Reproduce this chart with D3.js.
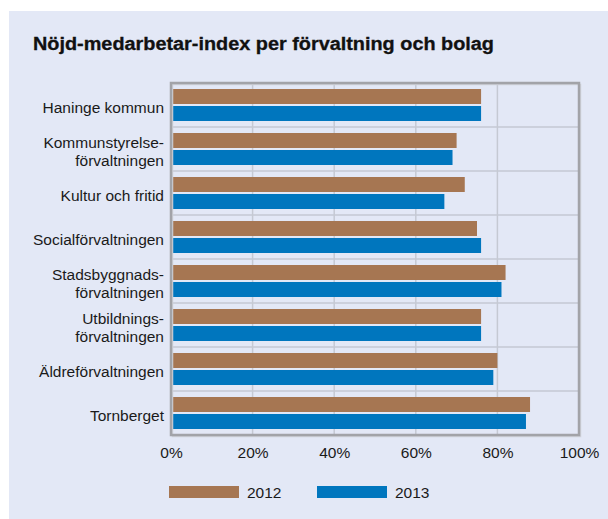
<!DOCTYPE html>
<html>
<head>
<meta charset="utf-8">
<script src="https://cdn.jsdelivr.net/npm/d3@7"></script>
<style>
  html, body { margin: 0; padding: 0; background: #ffffff; }
  svg { display: block; }
</style>
</head>
<body>
<div id="chart"></div>
<script>
"use strict"
// data
const categories = [
    "Haninge kommun",
    "Kommunstyrelse-\nförvaltningen",
    "Kultur och fritid",
    "Socialförvaltningen",
    "Stadsbyggnads-\nförvaltningen",
    "Utbildnings-\nförvaltningen",
    "Äldreförvaltningen",
    "Tornberget"
];
const years = ["2012", "2013"];
const values2012 = [76, 70, 72, 75, 82, 76, 80, 88];
const values2013 = [76, 69, 67, 76, 81, 76, 79, 87];
const xTicks = [0, 20, 40, 60, 80, 100];
const title = "Nöjd-medarbetar-index per förvaltning och bolag";

const colors = { "2012": "#a67652", "2013": "#0076be" };
const panelColor = "#e3e8f6";
const gridColor = "#c5c9d3";
const frameColor = "#a2a3a8";
const font = "'Liberation Sans', Arial, sans-serif";
const labelSize = 15.5;

const fullWidth = 608;
const fullHeight = 519;

const svg = d3.select("#chart").append("svg")
    .attr("width", fullWidth).attr("height", fullHeight);

// background panel
svg.append("rect").attr("x", 9).attr("y", 11)
    .attr("width", fullWidth - 9).attr("height", fullHeight - 11)
    .attr("fill", panelColor);

svg.append("text")
    .attr("x", 33).attr("y", 50)
    .attr("font-family", font).attr("font-weight", "bold")
    .attr("font-size", 18).attr("fill", "#111")
    .attr("stroke", "#111").attr("stroke-width", 0.3)
    .attr("textLength", 461).attr("lengthAdjust", "spacingAndGlyphs")
    .text(title);

const plotLeft = 171, plotRight = 579, plotTop = 83, plotBottom = 435;

const xScale = d3.scaleLinear().domain([0, 100]).range([plotLeft, plotRight]);
const yScale = d3.scaleBand().domain(categories).range([plotTop, plotBottom]);
const subScale = d3.scaleBand().domain(years).range([6, 38]).paddingInner(2 / 17);

const grid = svg.append("g");
grid.selectAll(".vgrid")
    .data(xTicks.slice(1, -1))
    .enter().append("line")
    .attr("x1", d => xScale(d)).attr("x2", d => xScale(d))
    .attr("y1", plotTop).attr("y2", plotBottom)
    .attr("stroke", gridColor).attr("stroke-width", 1.5);
grid.selectAll(".hgrid")
    .data(categories.slice(1))
    .enter().append("line")
    .attr("x1", plotLeft).attr("x2", plotRight)
    .attr("y1", d => yScale(d)).attr("y2", d => yScale(d))
    .attr("stroke", gridColor).attr("stroke-width", 1.5);

// bars
const series = [values2012, values2013];
const rows = [];
categories.forEach((c, i) => {
    years.forEach((y, j) => rows.push({ cat: c, year: y, value: series[j][i] }));
});

svg.append("g").selectAll("rect")
    .data(rows)
    .enter().append("rect")
    .attr("x", xScale(0))
    .attr("y", d => yScale(d.cat) + subScale(d.year))
    .attr("width", d => xScale(d.value) - xScale(0))
    .attr("height", subScale.bandwidth())
    .attr("fill", d => colors[d.year]);

// frame with light shadow
svg.append("rect")
    .attr("x", plotLeft + 1.5).attr("y", plotTop + 1.5)
    .attr("width", plotRight - plotLeft).attr("height", plotBottom - plotTop)
    .attr("fill", "none").attr("stroke", "#cfd2da").attr("stroke-width", 1.5);
svg.append("rect")
    .attr("x", plotLeft).attr("y", plotTop)
    .attr("width", plotRight - plotLeft).attr("height", plotBottom - plotTop)
    .attr("fill", "none").attr("stroke", frameColor).attr("stroke-width", 2.5);

// category labels
const labels = svg.append("g");
categories.forEach(c => {
    const lines = c.split("\n");
    const cy = yScale(c) + yScale.bandwidth() / 2 + 2.5;
    const t = labels.append("text")
        .attr("x", 164)
        .attr("text-anchor", "end")
        .attr("font-family", font).attr("font-size", labelSize).attr("fill", "#1a1a1a");
    lines.forEach((l, k) => {
        t.append("tspan")
            .attr("x", 164)
            .attr("y", cy + (k - (lines.length - 1) / 2) * 18)
            .attr("dy", "0.35em")
            .text(l);
    });
});

// x axis labels
const xAxis = d3.axisBottom(xScale).tickValues(xTicks).tickFormat(d => d + "%").tickSize(0).tickPadding(6);
const ax = svg.append("g").attr("transform", "translate(0," + (plotBottom + 6) + ")").call(xAxis);
ax.select(".domain").remove();
ax.selectAll("text").attr("font-family", font).attr("font-size", labelSize).attr("fill", "#1a1a1a");

// legend
const legend = svg.append("g").selectAll("g")
    .data(years)
    .enter().append("g")
    .attr("transform", (d, i) => "translate(" + (169 + i * 148) + ",486)");
legend.append("rect").attr("width", 70).attr("height", 12).attr("fill", d => colors[d]);
legend.append("text")
    .attr("x", 78).attr("y", 6).attr("dy", "0.36em")
    .attr("font-family", font).attr("font-size", labelSize).attr("fill", "#1a1a1a")
    .text(d => d);
</script>
</body>
</html>
